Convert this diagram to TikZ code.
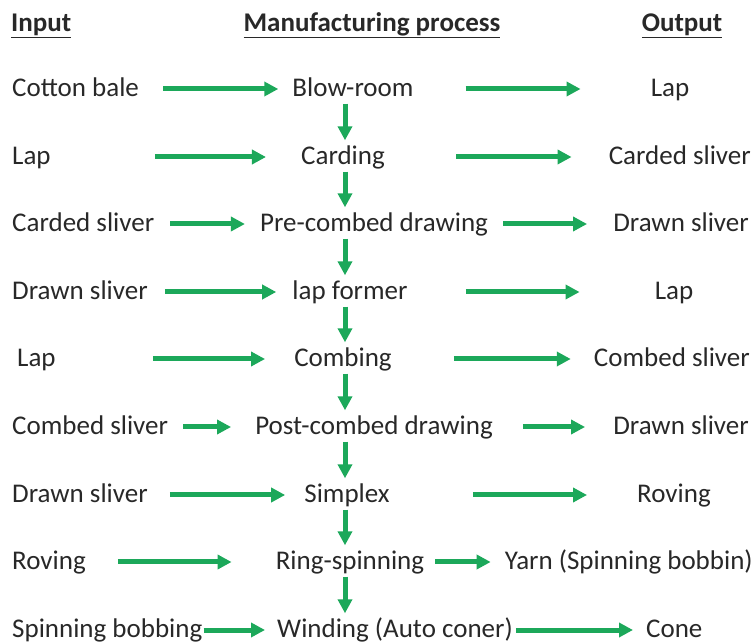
\documentclass[tikz,border=0pt]{standalone}
\usepackage{fontspec}
\setmainfont{Carlito}
\usepackage{tikz}
\usetikzlibrary{arrows.meta}
\definecolor{flowgreen}{RGB}{28,168,90}
\definecolor{inkgray}{RGB}{40,40,40}
\tikzset{
  word/.style={inner sep=0pt,text height=21pt,text depth=6pt,text=inkgray,font=\fontsize{27}{32}\selectfont},
  head/.style={word,font=\fontsize{27}{32}\selectfont\bfseries},
  flow/.style={draw=flowgreen,line width=5pt,-{Triangle[length=14pt,width=14pt]}},
}

\begin{document}
\begin{tikzpicture}[x=1pt,y=-1pt] % spinning process chart
        \useasboundingbox (0,0) rectangle (756,644);
        \coordinate (vx) at (345,0);
        \node[head,anchor=west] (hin) at (11,24) {\underline{Input}};
        \node[head] (hproc) at (372,24) {\underline{Manufacturing process}};
        \node[head] (hout) at (682,24) {\underline{Output}};
        % inputs
        \node[word,anchor=west] (in1) at (12,89) {Cotton bale};
        \node[word,anchor=west] (in2) at (12,157) {Lap};
        \node[word,anchor=west] (in3) at (12,224) {Carded sliver};
        \node[word,anchor=west] (in4) at (12,292) {Drawn sliver};
        \node[word,anchor=west] (in5) at (17,359) {Lap};
        \node[word,anchor=west] (in6) at (12,427) {Combed sliver};
        \node[word,anchor=west] (in7) at (12,495) {Drawn sliver};
        \node[word,anchor=west] (in8) at (12,562) {Roving};
        \node[word,anchor=west] (in9) at (12,630) {Spinning bobbing};
        % processes
        \node[word] (pr1) at (353,89) {Blow-room};
        \node[word] (pr2) at (343,157) {Carding};
        \node[word] (pr3) at (374,224) {Pre-combed drawing};
        \node[word] (pr4) at (350,292) {lap former};
        \node[word] (pr5) at (343,359) {Combing};
        \node[word] (pr6) at (374,427) {Post-combed drawing};
        \node[word] (pr7) at (347,495) {Simplex};
        \node[word] (pr8) at (350,562) {Ring-spinning};
        \node[word] (pr9) at (395,630) {Winding (Auto coner)};
        % outputs
        \node[word] (out1) at (670,89) {Lap};
        \node[word,anchor=east] (out2) at (751,157) {Carded sliver};
        \node[word,anchor=east] (out3) at (749,224) {Drawn sliver};
        \node[word] (out4) at (674,292) {Lap};
        \node[word,anchor=east] (out5) at (750,359) {Combed sliver};
        \node[word,anchor=east] (out6) at (749,427) {Drawn sliver};
        \node[word] (out7) at (674,495) {Roving};
        \node[word,anchor=east] (out8) at (753,562) {Yarn (Spinning bobbin)};
        \node[word,anchor=west] (out9) at (646,630) {Cone};
        % input arrows
        \draw[flow,shorten <=24pt,shorten >=14pt] (in1) -- (pr1);
        \draw[flow,shorten <=104pt,shorten >=35pt] (in2) -- (pr2);
        \draw[flow,shorten <=16pt,shorten >=15pt] (in3) -- (pr3);
        \draw[flow,shorten <=17pt,shorten >=16pt] (in4) -- (pr4);
        \draw[flow,shorten <=97pt,shorten >=29pt] (in5) -- (pr5);
        \draw[flow,shorten <=15pt,shorten >=24pt] (in6) -- (pr6);
        \draw[flow,shorten <=22pt,shorten >=19pt] (in7) -- (pr7);
        \draw[flow,shorten <=32pt,shorten >=44pt] (in8) -- (pr8);
        \draw[flow,shorten <=1pt,shorten >=12pt] (in9) -- (pr9);
        % output arrows
        \draw[flow,shorten <=52pt,shorten >=70pt] (pr1) -- (out1);
        \draw[flow,shorten <=71pt,shorten >=37pt] (pr2) -- (out2);
        \draw[flow,shorten <=15pt,shorten >=26pt] (pr3) -- (out3);
        \draw[flow,shorten <=58pt,shorten >=75pt] (pr4) -- (out4);
        \draw[flow,shorten <=62pt,shorten >=23pt] (pr5) -- (out5);
        \draw[flow,shorten <=30pt,shorten >=28pt] (pr6) -- (out6);
        \draw[flow,shorten <=83pt,shorten >=50pt] (pr7) -- (out7);
        \draw[flow,shorten <=11pt,shorten >=14pt] (pr8) -- (out8);
        \draw[flow,shorten <=3pt,shorten >=13pt] (pr9) -- (out9);
        % process chain
        \draw[flow,shorten <=1pt,shorten >=3pt] (pr1.south -| vx) -- (pr2.north -| vx);
        \draw[flow,shorten <=1pt,shorten >=3pt] (pr2.south -| vx) -- (pr3.north -| vx);
        \draw[flow,shorten <=1pt,shorten >=3pt] (pr3.south -| vx) -- (pr4.north -| vx);
        \draw[flow,shorten <=1pt,shorten >=3pt] (pr4.south -| vx) -- (pr5.north -| vx);
        \draw[flow,shorten <=1pt,shorten >=3pt] (pr5.south -| vx) -- (pr6.north -| vx);
        \draw[flow,shorten <=1pt,shorten >=3pt] (pr6.south -| vx) -- (pr7.north -| vx);
        \draw[flow,shorten <=1pt,shorten >=3pt] (pr7.south -| vx) -- (pr8.north -| vx);
        \draw[flow,shorten <=1pt,shorten >=3pt] (pr8.south -| vx) -- (pr9.north -| vx);
\end{tikzpicture}
\end{document}
